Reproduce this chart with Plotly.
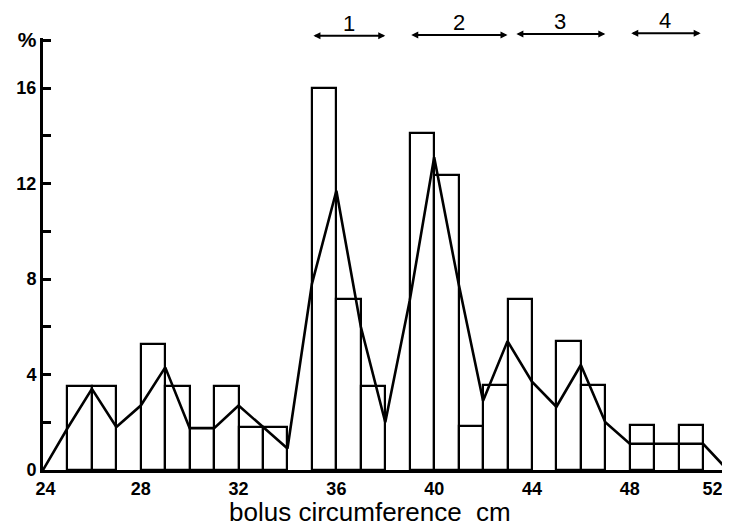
import numpy as np
import plotly.graph_objects as go

# Histogram bins (1 cm wide), left edges 24..51, values in %
bin_left = list(range(24, 52))
bar_pct = [0, 3.5, 3.5, 0, 5.3, 3.5, 1.75, 3.5, 1.8, 1.8, 0, 16.0, 7.15, 3.5,
           0, 14.1, 12.35, 1.85, 3.55, 7.15, 0, 5.4, 3.55, 0, 1.9, 0, 1.9, 0]

# Frequency polygon (smoothed), at integer cm 24..52
poly_x = list(range(24, 53))
poly_y = [0, 1.75, 3.4, 1.8, 2.7, 4.3, 1.75, 1.75, 2.7, 1.8, 0.9, 7.8, 11.7, 6.0,
          2.0, 7.1, 13.1, 7.8, 2.9, 5.4, 3.7, 2.65, 4.4, 2.0, 1.1, 1.1, 1.1, 1.1, 0]

# Groups marked above the chart
group_labels = ["1", "2", "3", "4"]
group_start = [35.0, 39.0, 43.3, 48.0]
group_end = [38.0, 43.0, 47.0, 50.9]

x_ticks = [24, 28, 32, 36, 40, 44, 48, 52]
x_ticktext = ["&nbsp;24", "28", "32", "36", "40", "44", "48",
              "52&nbsp;&nbsp;&nbsp;&nbsp;&nbsp;&nbsp;"]
y_tickvals = [0, 2, 4, 6, 8, 10, 12, 14, 16, 18]
y_ticktext = ["0", "", "4", "", "8", "", "12", "", "16",
              "<span style='font-size:21px'>%</span>"]

bl = np.array(bin_left, dtype=float)
bp = np.array(bar_pct, dtype=float)
mask = bp > 0

fig = go.Figure()
fig.add_trace(go.Bar(
    x=bl[mask] + 0.5, y=bp[mask], width=1.0,
    marker=dict(color="white", line=dict(color="black", width=2.2)),
    showlegend=False,
))
fig.add_trace(go.Scatter(
    x=poly_x, y=poly_y, mode="lines",
    line=dict(color="black", width=2.6),
    showlegend=False, cliponaxis=False,
))

arrow_y = [1.005, 1.007, 1.009, 1.011]
for lab, s, e, ay in zip(group_labels, group_start, group_end, arrow_y):
    fig.add_annotation(
        x=e, y=ay, ax=s, ay=0, xref="x", yref="paper", axref="x", ayref="pixel",
        text="", showarrow=True, arrowhead=2, arrowside="end+start",
        arrowsize=0.7, arrowwidth=2, arrowcolor="black",
    )
    fig.add_annotation(
        x=(s + e) / 2, y=ay - 0.005, xref="x", yref="paper", yanchor="bottom",
        text=lab, showarrow=False,
        font=dict(family="Liberation Sans", size=22, color="black"),
    )

fig.add_annotation(
    x=0.476, y=-0.098, xref="paper", yref="paper", yanchor="middle",
    text="bolus circumference  cm", showarrow=False,
    font=dict(family="Liberation Sans", size=26, color="black"),
)

fig.update_layout(
    width=730, height=527,
    margin=dict(l=35, r=8, t=30, b=65, autoexpand=False),
    paper_bgcolor="white", plot_bgcolor="white",
    bargap=0,
    xaxis=dict(
        range=[24, 52.1], tickvals=x_ticks, ticktext=x_ticktext,
        ticklabeloverflow="allow",
        showline=True, linecolor="black", linewidth=3, ticks="",
        showgrid=False, zeroline=False, automargin=False,
        tickfont=dict(family="Liberation Sans", size=18, color="black", weight="bold"),
    ),
    yaxis=dict(
        range=[0, 18.1], tickvals=y_tickvals, ticktext=y_ticktext,
        showline=True, linecolor="black", linewidth=3,
        ticks="inside", ticklen=8, tickwidth=2.5, tickcolor="black",
        showgrid=False, zeroline=False, automargin=False,
        tickfont=dict(family="Liberation Sans", size=18, color="black", weight="bold"),
    ),
)

fig.write_html("out.html")
